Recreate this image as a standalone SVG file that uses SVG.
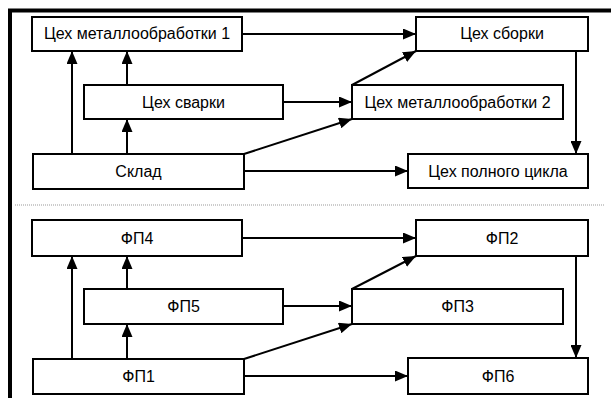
<svg xmlns="http://www.w3.org/2000/svg" width="611" height="398" viewBox="0 0 611 398">
<style>
.box{fill:#fff;stroke:#000;stroke-width:2}
.lbl{font-family:"Liberation Sans",Arial,sans-serif;font-size:16px;fill:#000;text-anchor:middle}
.con line{stroke:#000;stroke-width:2;marker-end:url(#ah)}
</style>
<defs>
<marker id="ah" markerUnits="userSpaceOnUse" markerWidth="13" markerHeight="11" refX="13" refY="5.5" orient="auto">
<path d="M0,0 L13,5.5 L0,11 z" fill="#000"/>
</marker>
</defs>
<rect width="611" height="398" fill="#fff"/>
<path d="M10,398 V10.5 H611" fill="none" stroke="#000" stroke-width="4"/>
<line x1="15" y1="205" x2="605" y2="205" stroke="#999" stroke-width="1" stroke-dasharray="1,1"/>
<g id="connectors" class="con">
<line x1="242" y1="34" x2="416" y2="34"/>
<line x1="283" y1="102" x2="352" y2="102"/>
<line x1="244" y1="154" x2="352" y2="119"/>
<line x1="352" y1="85" x2="416" y2="51"/>
<line x1="244" y1="171" x2="408" y2="171"/>
<line x1="576" y1="51" x2="576" y2="154"/>
<line x1="72" y1="154" x2="72" y2="51"/>
<line x1="127" y1="154" x2="127" y2="119"/>
<line x1="127" y1="85" x2="127" y2="51"/>
<line x1="242" y1="238" x2="416" y2="238"/>
<line x1="283" y1="306" x2="352" y2="306"/>
<line x1="244" y1="359" x2="352" y2="324"/>
<line x1="352" y1="289" x2="416" y2="256"/>
<line x1="244" y1="376" x2="408" y2="376"/>
<line x1="576" y1="256" x2="576" y2="358"/>
<line x1="72" y1="359" x2="72" y2="256"/>
<line x1="127" y1="359" x2="127" y2="324"/>
<line x1="127" y1="289" x2="127" y2="256"/>
</g>
<g id="m1"><rect class="box" x="32" y="17" width="210" height="34"/><text class="lbl" x="137" y="39">Цех металлообработки 1</text></g>
<g id="sborka"><rect class="box" x="416" y="17" width="172" height="34"/><text class="lbl" x="502" y="39">Цех сборки</text></g>
<g id="svarka"><rect class="box" x="84" y="85" width="199" height="34"/><text class="lbl" x="183.5" y="107.5">Цех сварки</text></g>
<g id="m2"><rect class="box" x="352" y="85" width="211" height="34"/><text class="lbl" x="457.5" y="107.5">Цех металлообработки 2</text></g>
<g id="sklad"><rect class="box" x="33" y="154" width="211" height="35"/><text class="lbl" x="138.5" y="176.5">Склад</text></g>
<g id="full"><rect class="box" x="408" y="154" width="180" height="34"/><text class="lbl" x="498" y="176.5">Цех полного цикла</text></g>
<g id="fp4"><rect class="box" x="32" y="220" width="210" height="36"/><text class="lbl" x="137" y="243.5">ФП4</text></g>
<g id="fp2"><rect class="box" x="416" y="220" width="172" height="36"/><text class="lbl" x="502" y="243.5">ФП2</text></g>
<g id="fp5"><rect class="box" x="84" y="289" width="199" height="35"/><text class="lbl" x="183.5" y="311.5">ФП5</text></g>
<g id="fp3"><rect class="box" x="352" y="289" width="211" height="35"/><text class="lbl" x="457.5" y="311.5">ФП3</text></g>
<g id="fp1"><rect class="box" x="33" y="359" width="211" height="35"/><text class="lbl" x="138.5" y="381.5">ФП1</text></g>
<g id="fp6"><rect class="box" x="408" y="358" width="180" height="36"/><text class="lbl" x="498" y="381.5">ФП6</text></g>
</svg>
